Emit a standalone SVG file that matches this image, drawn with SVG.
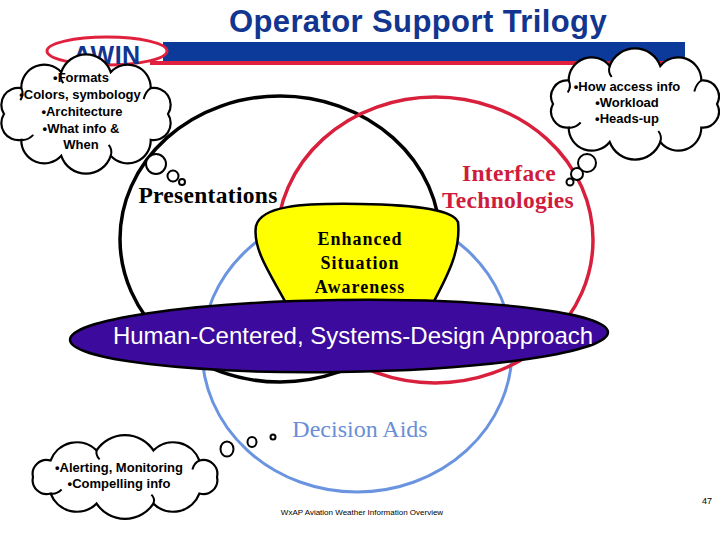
<svg xmlns="http://www.w3.org/2000/svg" width="720" height="540" viewBox="0 0 720 540">
<style>
.cloud{fill:#fff;stroke:#000;stroke-width:2.2}
.curl{fill:none;stroke:#000;stroke-width:2}
.bub{fill:#fff;stroke:#000;stroke-width:2}
.ct{font-family:"Liberation Sans",Arial,sans-serif;font-size:13px;font-weight:bold;fill:#000;text-anchor:middle}
.ser{font-family:"Liberation Serif","Times New Roman",serif;text-anchor:middle}
.ring{fill:none}
</style>
<rect width="720" height="540" fill="#fff"/>
<g id="header">
<rect x="163" y="42" width="522" height="19" fill="#0b3a9b"/>
<rect x="150" y="61" width="540" height="4" fill="#e0203c"/>
<text x="418" y="32" font-family="Liberation Sans,Arial,sans-serif" font-size="31" font-weight="bold" fill="#12358f" text-anchor="middle" letter-spacing="0.4">Operator Support Trilogy</text>
</g>
<g id="awin">
<ellipse cx="107" cy="51" rx="60" ry="14" fill="#fff" stroke="#e0203c" stroke-width="3"/>
<text x="107" y="64" font-family="Liberation Sans,Arial,sans-serif" font-size="25" font-weight="bold" fill="#12358f" text-anchor="middle" letter-spacing="0.5">AWIN</text>
</g>
<g id="connectors">
<ellipse id="decision-ring" class="ring" cx="357" cy="350" rx="155" ry="142" stroke="#6b94e0" stroke-width="3"/>
<ellipse id="presentations-ring" class="ring" cx="280" cy="239" rx="160" ry="143" stroke="#000" stroke-width="3.5"/>
<ellipse id="interface-ring" class="ring" cx="435" cy="240" rx="158" ry="143" stroke="#d8203c" stroke-width="3.5"/>
</g>
<g id="presentations">
<text class="ser" x="208" y="203" font-size="23.5" font-weight="bold" fill="#000" letter-spacing="0.3">Presentations</text>
</g>
<g id="interface">
<text class="ser" x="509" y="181" font-size="23.5" font-weight="bold" fill="#d01c3c" letter-spacing="0.3">Interface</text>
<text class="ser" x="508" y="208" font-size="23.5" font-weight="bold" fill="#d01c3c" letter-spacing="0.3">Technologies</text>
</g>
<g id="decision">
<text class="ser" x="360" y="437" font-size="24" fill="#6a8ed8">Decision Aids</text>
</g>
<g id="esa">
<path d="M256,226 C261,206 300,203 360,204 C420,205 453,210 458,222 C461,250 448,275 432,305 L287,305 C273,278 252,250 256,226 Z" fill="#ffff00" stroke="#000" stroke-width="2.5"/>
<text class="ser" x="360" y="245" font-size="18" font-weight="bold" letter-spacing="1">Enhanced</text>
<text class="ser" x="360" y="269" font-size="18" font-weight="bold" letter-spacing="1">Situation</text>
<text class="ser" x="360" y="293" font-size="18" font-weight="bold" letter-spacing="1">Awareness</text>
</g>
<g id="approach">
<ellipse cx="339" cy="336" rx="269" ry="36" transform="rotate(-0.8 339 336)" fill="#3c0a9c" stroke="#000" stroke-width="2.5"/>
<text x="353" y="344" font-family="Liberation Sans,Arial,sans-serif" font-size="24" fill="#fff" text-anchor="middle">Human-Centered, Systems-Design Approach</text>
</g>
<g id="cloud-formats">
<path class="cloud" d="M4,114 A17,17 0 0 1 21.3,88.1 A23,23 0 0 1 61.3,72.2 A26,26 0 0 1 110.7,72.2 A23,23 0 0 1 150.7,88.1 A17,17 0 0 1 168,114 A17,17 0 0 1 150.7,139.9 A23,23 0 0 1 110.7,155.8 A26,26 0 0 1 61.3,155.8 A23,23 0 0 1 21.3,139.9 A17,17 0 0 1 4,114 Z"/>
<path class="curl" d="M61.3,72.2 q-2,6 2,11 M150.7,88.1 q-5,3 -7,11 M110.7,155.8 q2,-6 -2,-11 M21.3,139.9 q6,1 12,-5 M21.3,88.1 q3,6 -1,12"/>
<circle class="bub" cx="156" cy="164" r="10"/>
<circle class="bub" cx="173" cy="176" r="5.5"/>
<circle class="bub" cx="182" cy="182" r="3"/>
<text class="ct" x="81" y="82">•Formats</text>
<text class="ct" x="80" y="99">•Colors, symbology</text>
<text class="ct" x="82" y="116">•Architecture</text>
<text class="ct" x="81" y="133">•What info &amp;</text>
<text class="ct" x="81" y="149">When</text>
</g>
<g id="cloud-access">
<path class="cloud" d="M553,104 A16,16 0 0 1 568.7,80.5 A23,23 0 0 1 609.7,66 A27,27 0 0 1 660.3,66 A23,23 0 0 1 701.3,80.5 A16,16 0 0 1 717,104 A16,16 0 0 1 701.3,127.5 A23,23 0 0 1 660.3,142 A27,27 0 0 1 609.7,142 A23,23 0 0 1 568.7,127.5 A16,16 0 0 1 553,104 Z"/>
<path class="curl" d="M609.7,66 q-2,6 2,11 M701.3,80.5 q-5,3 -7,11 M660.3,142 q2,-6 -2,-11 M568.7,127.5 q6,1 12,-5 M568.7,80.5 q3,6 -1,12"/>
<circle class="bub" cx="587" cy="163" r="9"/>
<circle class="bub" cx="577" cy="174" r="6"/>
<circle class="bub" cx="570" cy="182" r="3.5"/>
<text class="ct" x="627" y="91">•How access info</text>
<text class="ct" x="627" y="107">•Workload</text>
<text class="ct" x="627" y="123">•Heads-up</text>
</g>
<g id="cloud-alerting">
<path class="cloud" d="M33,477 A14,14 0 0 1 50.6,460.5 A28,28 0 0 1 96.6,450.4 A34,34 0 0 1 153.4,450.4 A28,28 0 0 1 199.4,460.5 A14,14 0 0 1 217,477 A14,14 0 0 1 199.4,493.5 A28,28 0 0 1 153.4,503.6 A34,34 0 0 1 96.6,503.6 A28,28 0 0 1 50.6,493.5 A14,14 0 0 1 33,477 Z"/>
<path class="curl" d="M96.6,450.4 q-1,5 3,9 M199.4,460.5 q-5,2 -7,9 M153.4,503.6 q2,-5 -2,-9 M50.6,493.5 q6,1 11,-4"/>
<ellipse class="bub" cx="227" cy="449" rx="6.5" ry="7.5"/>
<ellipse class="bub" cx="252" cy="442" rx="4.5" ry="5"/>
<circle class="bub" cx="273" cy="437" r="2.5"/>
<text class="ct" x="119" y="472">•Alerting, Monitoring</text>
<text class="ct" x="119" y="488">•Compelling info</text>
</g>
<g id="footer">
<text x="362" y="515" font-family="Liberation Sans,Arial,sans-serif" font-size="8" fill="#000" text-anchor="middle">WxAP Aviation Weather Information Overview</text>
<text x="707" y="504" font-family="Liberation Sans,Arial,sans-serif" font-size="9" fill="#000" text-anchor="middle">47</text>
</g>
</svg>
